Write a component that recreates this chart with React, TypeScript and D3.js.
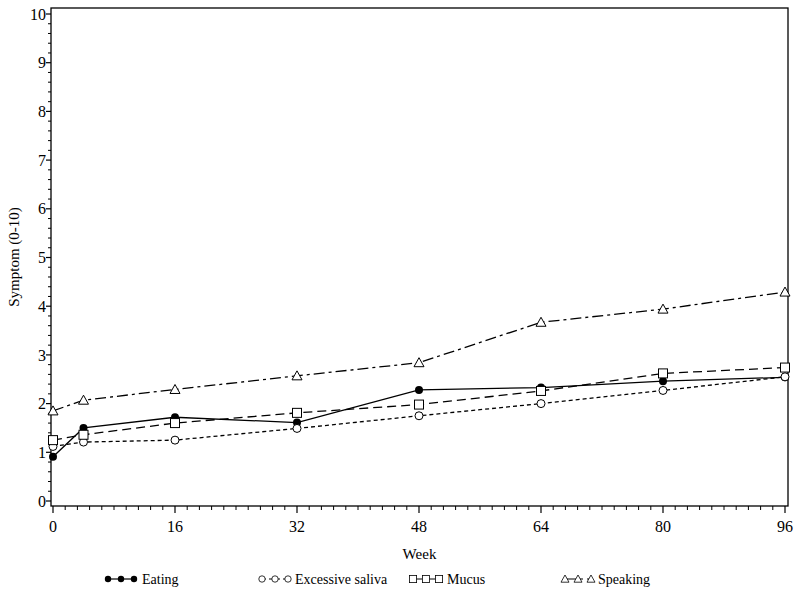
import React from "react";
import * as d3 from "d3";

const weeks = [0, 4, 16, 32, 48, 64, 80, 96];
const eating = [0.91, 1.5, 1.72, 1.61, 2.28, 2.33, 2.46, 2.54];
const saliva = [1.12, 1.21, 1.25, 1.49, 1.75, 2.0, 2.27, 2.55];
const mucus = [1.25, 1.36, 1.6, 1.81, 1.98, 2.26, 2.62, 2.74];
const speaking = [1.85, 2.07, 2.29, 2.57, 2.84, 3.67, 3.94, 4.29];
const xTicks = [0, 16, 32, 48, 64, 80, 96];
const yTicks = [0, 1, 2, 3, 4, 5, 6, 7, 8, 9, 10];
const seriesNames = ["Eating", "Excessive saliva", "Mucus", "Speaking"];

const W = 800, H = 598;
const frame = { left: 51, right: 788, top: 8, bottom: 506 };
const x = d3.scaleLinear().domain([0, 96]).range([53, 785]);
const y = d3.scaleLinear().domain([0, 10]).range([501, 14]);
const FONT = "Liberation Serif, Times New Roman, DejaVu Serif, serif";

type Marker = "dot" | "circle" | "square" | "triangle";
const series: { name: string; values: number[]; dash: string; marker: Marker; width: number }[] = [
  { name: seriesNames[0], values: eating, dash: "", marker: "dot", width: 1.3 },
  { name: seriesNames[1], values: saliva, dash: "4,3", marker: "circle", width: 1.3 },
  { name: seriesNames[2], values: mucus, dash: "9,5", marker: "square", width: 1.3 },
  { name: seriesNames[3], values: speaking, dash: "11,4,3,4", marker: "triangle", width: 1.3 },
];

function MarkerShape({ type, cx, cy }: { type: Marker; cx: number; cy: number }) {
  if (type === "dot") return <circle cx={cx} cy={cy} r={4} fill="#000" />;
  if (type === "circle") return <circle cx={cx} cy={cy} r={4} fill="#fff" stroke="#000" strokeWidth={1} />;
  if (type === "square")
    return <rect x={cx - 4.5} y={cy - 4.5} width={9} height={9} fill="#fff" stroke="#000" strokeWidth={1} />;
  const s = 5;
  return (
    <path
      d={`M${cx},${cy - s} L${cx + s},${cy + s * 0.8} L${cx - s},${cy + s * 0.8} Z`}
      fill="#fff"
      stroke="#000"
      strokeWidth={1}
    />
  );
}

export default function App() {
  const line = d3
    .line<number>()
    .x((_, i) => x(weeks[i]))
    .y((d) => y(d));

  const xMinor: number[] = [];
  for (let i = 0; i < xTicks.length - 1; i++) {
    for (let k = 1; k < 10; k++) xMinor.push(xTicks[i] + (k * 16) / 10);
  }
  const yMinor: number[] = [];
  for (let i = 0; i < yTicks.length - 1; i++) {
    for (let k = 1; k < 5; k++) yMinor.push(yTicks[i] + k / 5);
  }

  const legendX = [108, 262, 413, 565];
  const legendTextX = [142, 295, 447, 598];
  const legendY = 579;

  return (
    <svg
      width={W}
      height={H}
      style={{ position: "absolute", left: 0, top: 0, background: "#fff", fontFamily: FONT }}
    >
      <rect x={0} y={0} width={W} height={H} fill="#fff" />
      <rect
        x={frame.left}
        y={frame.top}
        width={frame.right - frame.left}
        height={frame.bottom - frame.top}
        fill="none"
        stroke="#000"
        strokeWidth={1.3}
      />
      {yTicks.map((t) => (
        <g key={"y" + t}>
          <line x1={frame.left - 5} x2={frame.left} y1={y(t)} y2={y(t)} stroke="#000" strokeWidth={1.2} />
          <text x={frame.left - 5} y={y(t)} dy="0.35em" textAnchor="end" fontSize={16} style={{ fontFamily: FONT }}>
            {t}
          </text>
        </g>
      ))}
      {yMinor.map((t, i) => (
        <line key={"ym" + i} x1={frame.left - 3} x2={frame.left} y1={y(t)} y2={y(t)} stroke="#000" strokeWidth={1} />
      ))}
      {xTicks.map((t) => (
        <g key={"x" + t}>
          <line x1={x(t)} x2={x(t)} y1={frame.bottom} y2={frame.bottom + 7} stroke="#000" strokeWidth={1.2} />
          <text x={x(t)} y={frame.bottom + 26} textAnchor="middle" fontSize={16} style={{ fontFamily: FONT }}>
            {t}
          </text>
        </g>
      ))}
      {xMinor.map((t, i) => (
        <line key={"xm" + i} x1={x(t)} x2={x(t)} y1={frame.bottom} y2={frame.bottom + 4} stroke="#000" strokeWidth={1} />
      ))}
      <text x={(frame.left + frame.right) / 2} y={559} textAnchor="middle" fontSize={15} style={{ fontFamily: FONT }}>
        Week
      </text>
      <text
        transform={`translate(19,${(frame.top + frame.bottom) / 2}) rotate(-90)`}
        textAnchor="middle"
        fontSize={15}
        style={{ fontFamily: FONT }}
      >
        Symptom (0-10)
      </text>
      {series.map((s) => (
        <g key={s.name}>
          <path
            d={line(s.values) || ""}
            fill="none"
            stroke="#000"
            strokeWidth={s.width}
            strokeDasharray={s.dash || undefined}
          />
          {s.values.map((v, i) => (
            <MarkerShape key={i} type={s.marker} cx={x(weeks[i])} cy={y(v)} />
          ))}
        </g>
      ))}
      {series.map((s, j) => (
        <g key={"lg" + s.name}>
          <line
            x1={legendX[j]}
            x2={legendX[j] + 26}
            y1={legendY}
            y2={legendY}
            stroke="#000"
            strokeWidth={1.2}
            strokeDasharray={s.dash || undefined}
          />
          {[0, 13, 26].map((dx) => (
            <g
              key={dx}
              transform={`translate(${legendX[j] + dx},${legendY}) scale(0.8) translate(${-(legendX[j] + dx)},${-legendY})`}
            >
              <MarkerShape type={s.marker} cx={legendX[j] + dx} cy={legendY} />
            </g>
          ))}
          <text x={legendTextX[j]} y={legendY} dy="0.35em" fontSize={14} style={{ fontFamily: FONT }}>
            {s.name}
          </text>
        </g>
      ))}
    </svg>
  );
}
